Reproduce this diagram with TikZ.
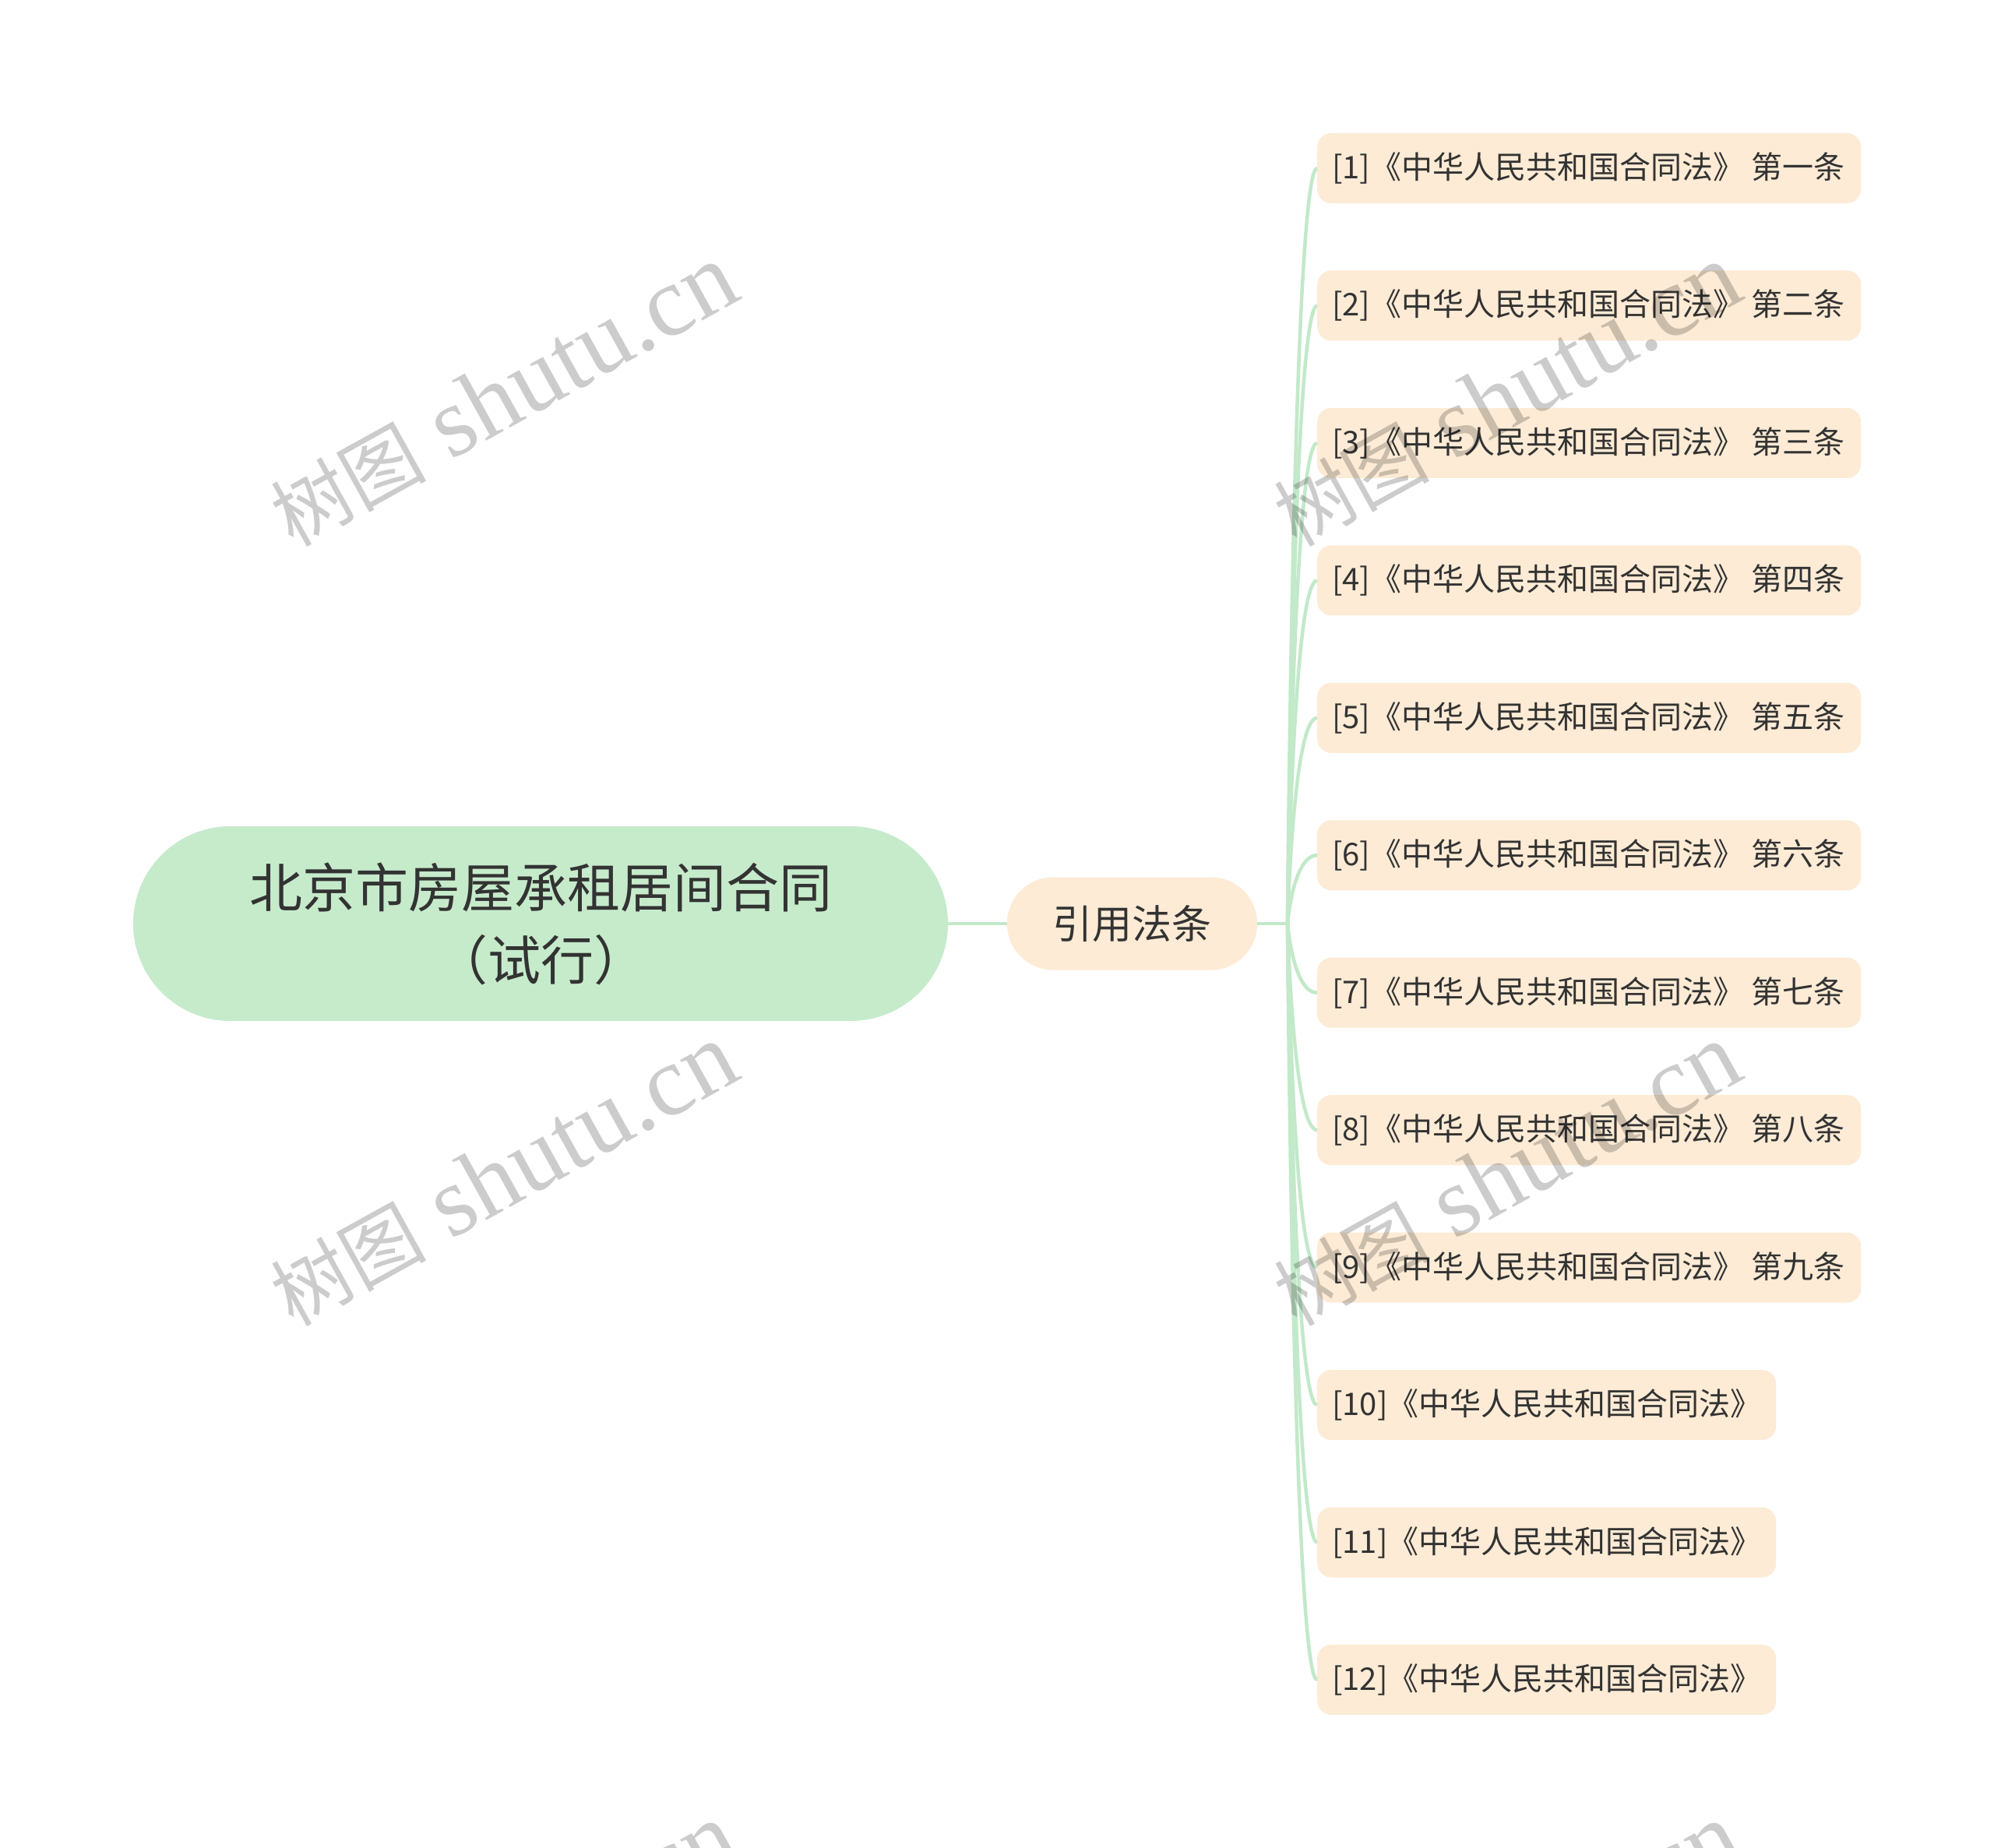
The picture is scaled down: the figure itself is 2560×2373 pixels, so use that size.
\documentclass[tikz,border=0pt]{standalone}
\usepackage{fontspec}
\setmainfont{Noto Sans CJK SC}
\newfontfamily\wmlat{Liberation Serif}
\usetikzlibrary{calc}
\definecolor{nodegreen}{RGB}{198,235,203}
\definecolor{linkgreen}{RGB}{194,233,201}
\definecolor{peach}{RGB}{253,235,213}
\definecolor{txt}{RGB}{51,51,51}
\begin{document}
\begin{tikzpicture}[x=1pt,y=-1pt,
  root/.style={fill=nodegreen, rounded corners=124.9pt, minimum width=1046pt, minimum height=250pt, inner sep=0pt, text=txt, align=center, font=\fontsize{68}{93}\selectfont},
  cat/.style={fill=peach, rounded corners=59pt, minimum width=321pt, minimum height=119pt, inner sep=0pt, text=txt, font=\fontsize{51}{60}\selectfont},
  leaf/.style={fill=peach, rounded corners=18pt, minimum height=90pt, inner xsep=19pt, inner ysep=0pt, anchor=west, text=txt, font=\fontsize{40}{48}\selectfont},
  link/.style={draw=linkgreen, line width=4.5pt},
  wm/.style={text=black, text opacity=0.2, rotate=29, font=\fontsize{100}{120}\selectfont, inner sep=0pt}
]
\useasboundingbox (0,0) rectangle (2560,2373);
\fill[white] (0,0) rectangle (2560,2373);

\node[root] (root) at (694,1186) {北京市房屋承租居间合同\\（试行）};
\node[cat] (cat) at (1453.5,1186) {引用法条};
\coordinate (j) at (1653,1186);

\node[leaf] (l1) at (1691,216) {\makebox[660pt][l]{[1]《中华人民共和国合同法》 第一条}};
\node[leaf] (l2) at (1691,392.45) {\makebox[660pt][l]{[2]《中华人民共和国合同法》 第二条}};
\node[leaf] (l3) at (1691,568.9) {\makebox[660pt][l]{[3]《中华人民共和国合同法》 第三条}};
\node[leaf] (l4) at (1691,745.35) {\makebox[660pt][l]{[4]《中华人民共和国合同法》 第四条}};
\node[leaf] (l5) at (1691,921.8) {\makebox[660pt][l]{[5]《中华人民共和国合同法》 第五条}};
\node[leaf] (l6) at (1691,1098.25) {\makebox[660pt][l]{[6]《中华人民共和国合同法》 第六条}};
\node[leaf] (l7) at (1691,1274.7) {\makebox[660pt][l]{[7]《中华人民共和国合同法》 第七条}};
\node[leaf] (l8) at (1691,1451.15) {\makebox[660pt][l]{[8]《中华人民共和国合同法》 第八条}};
\node[leaf] (l9) at (1691,1627.6) {\makebox[660pt][l]{[9]《中华人民共和国合同法》 第九条}};
\node[leaf] (l10) at (1691,1804.05) {\makebox[551pt][l]{[10]《中华人民共和国合同法》}};
\node[leaf] (l11) at (1691,1980.5) {\makebox[551pt][l]{[11]《中华人民共和国合同法》}};
\node[leaf] (l12) at (1691,2156.95) {\makebox[551pt][l]{[12]《中华人民共和国合同法》}};

\draw[link] (root.east) -- (cat.west);
\draw[link] (cat.east) -- (j);
\foreach \i in {1,...,12}
  \draw[link] (j) .. controls (j) and ($(j |- l\i.west)+(7,0)$) .. (l\i.west);

\begin{scope}
\clip (0,0) rectangle (2560,2373);
\foreach \wx/\wy/\k in {646/508/a,1934/508/b,646/1509/c,1934/1509/d,646/2510/e,1934/2510/f}
  \node[wm] (wm\k) at (\wx,\wy) {树图{\wmlat\fontsize{128}{130}\selectfont{} shutu.cn}};
\end{scope}
\end{tikzpicture}
\end{document}
